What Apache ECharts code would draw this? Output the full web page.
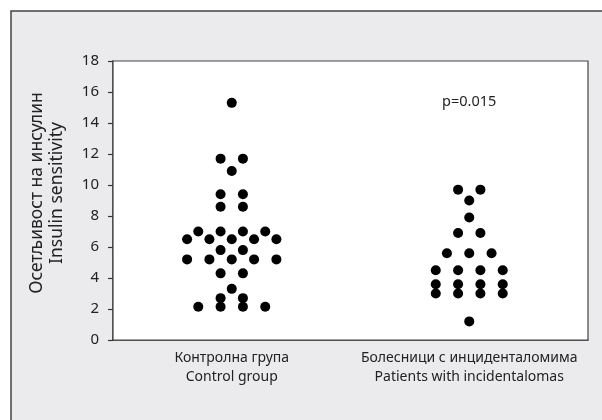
<!DOCTYPE html>
<html>
<head>
<meta charset="utf-8">
<script src="https://cdn.jsdelivr.net/npm/echarts@6/dist/echarts.min.js"></script>
<style>html,body{margin:0;padding:0;background:#fff;}#c{width:602px;height:420px;}</style>
</head>
<body>
<div id="c"></div>
<script>
const categories = ['Контролна група\nControl group', 'Болесници с инциденталомима\nPatients with incidentalomas'];
const yTicks = { min: 0, max: 18, interval: 2 };
const yTitle = 'Осетљивост на инсулин\nInsulin sensitivity';
const pText = 'p=0.015';
const controlValues = [15.3, 11.7, 11.7, 10.9, 9.4, 9.4, 8.6, 8.6,
  7.0, 7.0, 7.0, 7.0, 6.5, 6.5, 6.5, 6.5, 6.5, 5.8, 5.8,
  5.2, 5.2, 5.2, 5.2, 5.2, 4.3, 4.3, 3.3, 2.7, 2.7, 2.15, 2.15, 2.15, 2.15];
const patientValues = [9.7, 9.7, 9.0, 7.9, 6.9, 6.9, 5.6, 5.6, 5.6,
  4.5, 4.5, 4.5, 4.5, 3.6, 3.6, 3.6, 3.6, 3.0, 3.0, 3.0, 3.0, 1.2];

const FONT = 'Noto Sans';
const groupCenters = [1, 3];      // on a 0..4 hidden value axis => 1/4 and 3/4 of width
const halfStep = 0.094;           // dot spacing unit (axis units)

function swarm(values, center) {
  const rows = {};
  values.forEach(v => { (rows[v] = rows[v] || []).push(v); });
  const out = [];
  Object.keys(rows).forEach(k => {
    const n = rows[k].length;
    for (let i = 0; i < n; i++) {
      out.push([center + (2 * i - (n - 1)) * halfStep, Number(k)]);
    }
  });
  return out;
}

const chart = echarts.init(document.getElementById('c'));
const option = {
  animation: false,
  backgroundColor: '#ffffff',
  textStyle: { fontFamily: FONT },
  grid: { left: 113, top: 61, right: 14, bottom: 80, show: true, backgroundColor: '#ffffff', borderColor: '#444', borderWidth: 1.2, z: 1 },
  xAxis: [
    { type: 'value', min: 0, max: 4, show: false },
    { type: 'category', data: categories, position: 'bottom', boundaryGap: true,
      axisLine: { show: true, lineStyle: { color: '#333', width: 1.5 } },
      axisTick: { show: false },
      axisLabel: { margin: 9, fontSize: 14, lineHeight: 19, color: '#222', fontFamily: FONT, interval: 0 } }
  ],
  yAxis: {
    type: 'value', min: yTicks.min, max: yTicks.max, interval: yTicks.interval,
    axisLine: { show: true, lineStyle: { color: '#333', width: 1.5 } },
    axisTick: { show: true, inside: false, length: 5, lineStyle: { color: '#333', width: 1.2 } },
    axisLabel: { margin: 14, fontSize: 15, color: '#222', fontFamily: FONT },
    splitLine: { show: false }
  },
  graphic: [
    { type: 'rect', z: -100, silent: true, shape: { x: 11, y: 11, width: 640, height: 460 },
      style: { fill: '#ebebed', stroke: '#444', lineWidth: 1.5 } },
    { type: 'text', z: 100, x: 47, y: 193, rotation: Math.PI / 2,
      style: { text: yTitle, fontSize: 17.5, lineHeight: 20, fill: '#222', fontFamily: FONT, align: 'center', verticalAlign: 'middle' } }
  ],
  series: [
    { type: 'scatter', xAxisIndex: 0, data: swarm(controlValues, groupCenters[0]), symbolSize: 10, itemStyle: { color: '#000', opacity: 1 }, z: 5 },
    { type: 'scatter', xAxisIndex: 0, data: swarm(patientValues, groupCenters[1]), symbolSize: 10, itemStyle: { color: '#000', opacity: 1 }, z: 5 }
  ]
};
chart.setOption(option);
const pPos = chart.convertToPixel({ xAxisIndex: 0, yAxisIndex: 0 }, [groupCenters[1], 15.35]);
chart.setOption({ graphic: [ {}, {}, { type: 'text', z: 100, x: pPos[0], y: pPos[1],
  style: { text: pText, fontSize: 14.5, fill: '#222', fontFamily: FONT, align: 'center', verticalAlign: 'middle' } } ] });
</script>
</body>
</html>
